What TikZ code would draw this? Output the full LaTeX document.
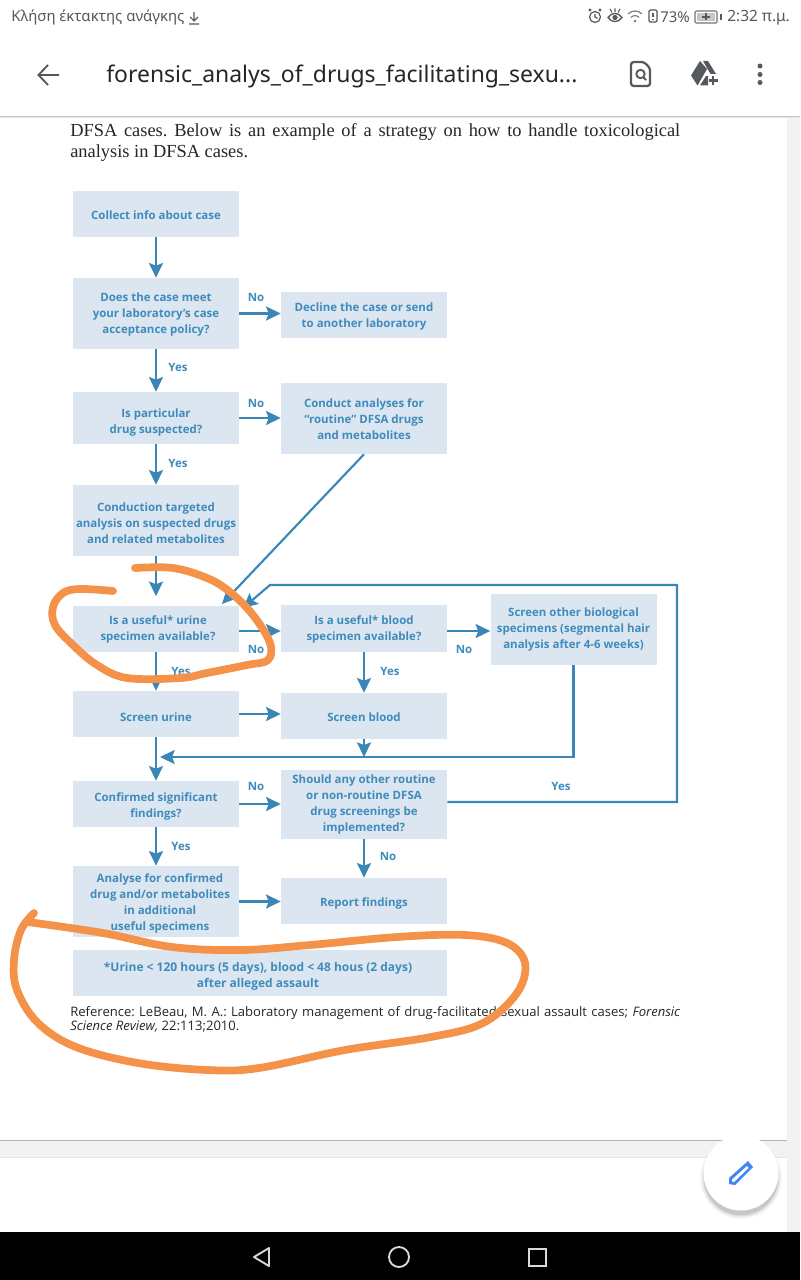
\documentclass[tikz,border=0pt]{standalone}
\usepackage{fontspec}
\usetikzlibrary{arrows.meta,calc}
\newfontfamily\flowfont{Open Sans}
\newfontfamily\uifont{Noto Sans}
\newfontfamily\bodyfont{Liberation Serif}
\newcommand\dn[1]{\rule{0pt}{\dimexpr 6.7pt+1.5pt*#1\relax}}
\newcommand\rt[1]{\hspace*{#1pt}}
\definecolor{boxfill}{HTML}{DCE6F1}
\definecolor{flowblue}{HTML}{3A87B7}
\definecolor{flowtext}{HTML}{3F8BBB}
\definecolor{marker}{HTML}{F49249}
\definecolor{uidark}{HTML}{55595D}
\definecolor{sidegrey}{HTML}{F1F2F4}
\definecolor{editblue}{HTML}{4285F4}
\tikzset{
 x=0.75pt,y=-0.75pt,
 flow/.style={fill=boxfill,inner sep=0pt,align=center,text=flowtext,font=\flowfont\bfseries\fontsize{8.6pt}{12pt}\selectfont},
 wide/.style={minimum width=124.5pt},
 lab/.style={text=flowtext,inner sep=0pt,font=\flowfont\bfseries\fontsize{8.6pt}{12pt}\selectfont},
 arr/.style={draw=flowblue,line width=1.6pt,-{Stealth[length=11pt,width=10.5pt,inset=2pt]}},
 pen/.style={draw=marker,line width=5.8pt,line cap=round,line join=round},
 body/.style={inner sep=0pt,anchor=west,font=\bodyfont\fontsize{13.8pt}{16pt}\selectfont\frenchspacing,text=black!85},
 refer/.style={inner sep=0pt,anchor=west,font=\flowfont\fontsize{9.8pt}{11pt}\selectfont\frenchspacing,text=black!85},
 ui/.style={inner sep=0pt,font=\uifont,text=uidark},
}
\begin{document}
\begin{tikzpicture}
\useasboundingbox (0,0) rectangle (800,1280);
\fill[white] (0,0) rectangle (800,1280);
% page furniture
\fill[sidegrey] (787,118) rectangle (800,1232);
\fill[sidegrey] (0,1141) rectangle (787,1157);
\fill[black!30] (0,1139.5) rectangle (787,1141);
\fill[black!10] (0,1157) rectangle (787,1158);
\fill[black!22] (0,116) rectangle (800,117);
\fill[black!10] (0,117) rectangle (800,118.5);
\fill[black] (0,1232) rectangle (800,1280);
% status bar
\node[ui,anchor=west,font=\uifont\fontsize{11.2pt}{12pt}\selectfont] (stat) at (11,18) {Κλήση έκτακτης ανάγκης};
\draw[uidark,line width=0.8pt] (194,12)--(194,21) (190,17)--(194,21)--(198,17) (189,24)--(199,24);
\draw[uidark,line width=0.9pt] (595,17) circle[radius=5.5] (595,14)--(595,17)--(597.5,18.5);
\fill[uidark] (590,10) circle[radius=1.6] (600,10) circle[radius=1.6];
\draw[uidark,line width=1pt] (608,17.5) .. controls (612,12) and (618,12) .. (622,17.5) .. controls (618,23) and (612,23) .. cycle;
\fill[uidark] (615,17.5) circle[radius=2.6];
\draw[uidark,line width=0.8pt] (610,9)--(612,12.5) (615,8.5)--(615,12) (620,9)--(618,12.5);
\draw[black!50,line width=0.9pt] (628,14) .. controls (632,10) and (638,10) .. (642,14);
\draw[black!50,line width=0.9pt] (631,17.5) .. controls (633,15) and (637,15) .. (639,17.5);
\fill[black!55] (635,21) circle[radius=1.3];
\draw[uidark,line width=0.9pt,rounded corners=1pt] (649,10) rectangle (657,22);
\draw[uidark,line width=0.9pt] (653,13)--(653,17.5) (653,19)--(653,20);
\node[ui,anchor=west,font=\uifont\fontsize{11.2pt}{12pt}\selectfont] (pct) at (660,17.5) {73\%};
\draw[black!55,line width=0.8pt,rounded corners=0.8pt] (695,11) rectangle (717,23);
\fill[black!22] (697,13) rectangle (715,21);
\fill[uidark] (720,14) rectangle (722,20);
\draw[uidark,line width=1pt] (702,17)--(710,17) (706,13.5)--(706,20.5);
\node[ui,anchor=west,font=\uifont\fontsize{11.6pt}{12pt}\selectfont] (clock) at (727,17.5) {2:32 π.μ.};
% toolbar
\draw[uidark,line width=1.4pt] (59,75)--(39,75) (48,65)--(38.5,75)--(48,85);
\node[anchor=west,inner sep=0pt,text=black!85,font=\uifont\fontsize{17.2pt}{20pt}\selectfont] (title) at (106,76.5) {forensic\_analys\_of\_drugs\_facilitating\_sexu...};
\draw[uidark,line width=1.7pt,rounded corners=2pt] (631,62) -- (644,62) -- (650,68) -- (650,86) -- (631,86) -- cycle;
\draw[uidark,line width=1.4pt] (640.5,74) circle[radius=4.2] (643.5,77.5)--(646,80);
\fill[uidark] (700,61) -- (691,75.5) -- (697.5,85.5) -- (707,69) -- cycle;
\fill[uidark] (703,61) -- (708,61) -- (716,74) -- (710.5,74) -- cycle;
\fill[uidark] (700,85.5) -- (706,76) -- (708,76) -- (708,85.5) -- cycle;
\draw[uidark,line width=1.6pt] (713,76)--(713,85.5) (708.5,80.5)--(718,80.5);
\fill[uidark] (760,66) circle[radius=2.5] (760,74.5) circle[radius=2.5] (760,82.5) circle[radius=2.5];
% paragraph
\node[body] (p1) at (70,132.5) {\makebox[457.5pt][s]{DFSA cases. Below is an example of a strategy on how to handle toxicological}};
\node[body] (p2) at (70,153.5) {analysis in DFSA cases.};
% flow boxes
\node[flow,wide,minimum height=34.5pt] (a) at (156,214) {\dn{1}Collect info about case};
\node[flow,wide,minimum height=53.25pt] (b) at (156,313.5) {\dn{1}Does the case meet\\your laboratory’s case\\acceptance policy?};
\node[flow,wide,minimum height=34.5pt] (c) at (364,315) {\dn{1}Decline the case or send\\to another laboratory};
\node[flow,wide,minimum height=39pt] (d) at (156,418) {\dn{4}Is particular\\drug suspected?};
\node[flow,wide,minimum height=53.25pt] (e) at (364,418.5) {\dn{1}Conduct analyses for\\“routine” DFSA drugs\\and metabolites};
\node[flow,wide,minimum height=53.25pt] (f) at (156,520.5) {\dn{3}Conduction targeted\\analysis on suspected drugs\\and related metabolites};
\node[flow,wide,minimum height=34.5pt] (g) at (156,628.5) {\dn{1}\rt{3}Is a useful* urine\\\rt{3}specimen available?};
\node[flow,wide,minimum height=35.25pt] (h) at (364,628.5) {\dn{1}Is a useful* blood\\specimen available?};
\node[flow,wide,minimum height=53.25pt] (i) at (573.5,629.5) {Screen other biological\\specimens (segmental hair\\analysis after 4-6 weeks)};
\node[flow,wide,minimum height=34.5pt] (j) at (156,714) {\dn{3}Screen urine};
\node[flow,wide,minimum height=34.5pt] (k) at (364,716) {\dn{1}Screen blood};
\node[flow,wide,minimum height=34.5pt] (l) at (156,804) {\dn{2}Confirmed significant\\findings?};
\node[flow,wide,minimum height=51.75pt] (m) at (364,804.5) {Should any other routine\\or non-routine DFSA\\drug screenings be\\implemented?};
\node[flow,wide,minimum height=53.25pt] (n) at (156,901.5) {\dn{2}\rt{6}Analyse for confirmed\\\rt{6}drug and/or metabolites\\\rt{6}in additional\\\rt{6}useful specimens};
\node[flow,wide,minimum height=34.5pt] (o) at (364,901) {\dn{2}Report findings};
\node[flow,minimum width=280.5pt,minimum height=34.5pt,font=\flowfont\bfseries\fontsize{9pt}{12pt}\selectfont] (q) at (260,973) {\dn{3}\rt{-3}*Urine < 120 hours (5 days), blood < 48 hous (2 days)\\\rt{-3}after alleged assault};
% connectors
\coordinate (tipe) at (222,604);
\coordinate (tipm) at (243,608);
\coordinate (loopa) at (677,802);
\coordinate (loopb) at (677,585);
\coordinate (loopc) at (270,585);
\coordinate (mergetip) at (160,757);
\draw[arr] (a) -- (b);
\draw[arr] (b.east) -- (b.east -| c.west);
\draw[arr] (b) -- (d);
\draw[arr] (d) -- (f);
\draw[arr] (d.east) -- (d.east -| e.west);
\draw[arr] (e.south) -- (tipe);
\draw[arr,shorten >=6.75pt] (f) -- (g);
\draw[arr] ([yshift=-1.9pt]g.east) -- ([yshift=-1.9pt]g.east -| h.west);
\draw[arr] ([yshift=-1.9pt]h.east) -- ([yshift=-1.9pt]h.east -| i.west);
\draw[arr] (g) -- (j);
\draw[arr] (h) -- (k);
\draw[arr] (j.east) -- (j.east -| k.west);
\draw[arr] (j) -- (l);
\draw[arr] (k.south) -- (k.south |- mergetip);
\draw[arr] (i.south) -- (i.south |- mergetip) -- (mergetip);
\draw[arr] (l) -- (n);
\draw[arr] (l.east) -- (l.east -| m.west);
\draw[arr] (m) -- (o);
\draw[arr] (n.east) -- (n.east -| o.west);
\draw[arr] (loopa -| m.east) -- (loopa) -- (loopb) -- (loopc) -- (tipm);
% labels
\node[lab] (l1) at (256,297) {No};
\node[lab] (l2) at (178,367) {Yes};
\node[lab] (l3) at (256,403) {No};
\node[lab] (l4) at (178,463) {Yes};
\node[lab] (l5) at (256,649) {No};
\node[lab] (l6) at (181,671) {Yes};
\node[lab] (l7) at (464,649) {No};
\node[lab] (l8) at (390,671) {Yes};
\node[lab] (l9) at (561,786) {Yes};
\node[lab] (l10) at (256,786) {No};
\node[lab] (l11) at (181,846) {Yes};
\node[lab] (l12) at (388,856) {No};
% reference
\node[refer] (r1) at (70,1013) {\makebox[457.5pt][s]{Reference: LeBeau, M. A.: Laboratory management of drug-facilitated sexual assault cases; \textit{Forensic}}};
\node[refer] (r2) at (70,1027) {\textit{Science Review,} 22:113;2010.};
% marker strokes
\draw[pen] plot[smooth,tension=0.6] coordinates {(135,568) (173,568) (207,578) (230,592) (253,615) (270,643) (268,660) (247,665) (207,673) (180,678) (127,678) (97,665) (73,645) (55,625) (53,607) (63,593) (80,589) (113,591)};
\draw[pen] plot[smooth,tension=0.6] coordinates {(34,913) (21,930) (14,960) (17,990) (38,1023) (76,1047) (138,1063) (207,1070) (259,1068) (345,1050) (431,1037) (483,1023) (517,993) (525,963) (507,943) (465,935) (397,937) (310,945) (241,950) (172,947) (103,933) (28,922)};
% edit button
\foreach \r/\o in {41/0.03,39.5/0.05,38/0.07,37/0.08}{\fill[black,opacity=\o] (741,1178) circle[radius=\r];}
\fill[white] (741,1173) circle[radius=37.5];
\fill[editblue] (729,1184) -- (729,1178) -- (748,1161) -- (753,1167) -- (735,1185) -- cycle;
\fill[white] (732,1181.5) -- (732,1179.5) -- (747,1166) -- (748.5,1168) -- (734,1182) -- cycle;
% navigation
\draw[black!15,line width=1.4pt,line join=round] (269,1248) -- (254,1257) -- (269,1266) -- cycle;
\draw[black!15,line width=1.4pt] (399,1257) circle[radius=10];
\draw[black!15,line width=1.4pt] (529,1249) rectangle (546,1266);
\end{tikzpicture}
\end{document}
